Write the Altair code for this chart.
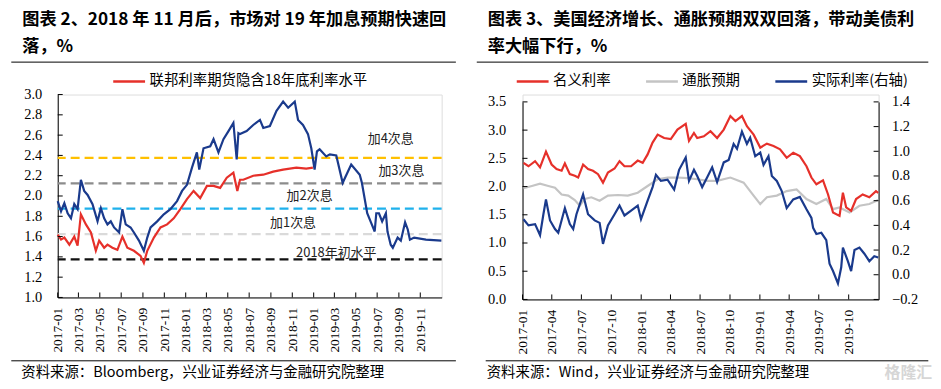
import pandas as pd
import altair as alt

# ---------------- text ----------------
L_TITLE = ["图表 2、2018 年 11 月后，市场对 19 年加息预期快速回", "落，%"]
R_TITLE = ["图表 3、美国经济增长、通胀预期双双回落，带动美债利", "率大幅下行，%"]
L_SOURCE = "资料来源：Bloomberg，兴业证券经济与金融研究院整理"
R_SOURCE = "资料来源：Wind，兴业证券经济与金融研究院整理"
WATERMARK = "格隆汇"
L_LEGEND = ["联邦利率期货隐含18年底利率水平"]
R_LEGEND = ["名义利率", "通胀预期", "实际利率(右轴)"]

# ---------------- left panel values (months since 2017-01-01) ----------------
LB_M = [0, 0.31, 0.62, 0.93, 1.24, 1.55, 1.86, 2.17, 2.48, 2.80, 3.26, 3.73, 4.04, 4.35, 4.66, 4.97,
        5.28, 5.75, 6.06, 6.37, 6.83, 7.14, 7.61, 8.07, 8.39, 8.70, 9.32, 9.94, 10.56, 11.18, 11.65,
        12.11, 12.58, 13.04, 13.26, 13.66, 14.29, 14.60, 15.06, 15.53, 16.00, 16.46, 16.77, 16.93,
        17.08, 17.70, 18.32, 18.95, 19.26, 19.88, 20.50, 21.12, 21.59, 22.21, 22.52, 22.98, 23.45,
        23.76, 24.07, 24.29, 24.54, 25.16, 25.50, 26.10, 26.70, 27.50, 28.30, 28.50, 29.00, 29.35,
        29.70, 29.85, 30.10, 30.40, 30.75, 30.90, 31.20, 31.40, 31.85, 32.15, 32.55, 32.80, 33.00,
        33.40, 34.50, 35.95]
LB_V = [1.95, 1.85, 1.93, 1.83, 1.78, 1.92, 1.87, 2.16, 2.05, 2.01, 1.92, 1.75, 1.88, 1.78, 1.72, 1.75,
        1.69, 1.64, 1.87, 1.72, 1.69, 1.64, 1.56, 1.46, 1.59, 1.69, 1.75, 1.82, 1.87, 1.95, 2.05,
        2.11, 2.28, 2.43, 2.26, 2.47, 2.49, 2.56, 2.43, 2.56, 2.64, 2.72, 2.36, 2.62,
        2.61, 2.64, 2.70, 2.75, 2.67, 2.69, 2.84, 2.93, 2.87, 2.93, 2.75, 2.70, 2.61,
        2.47, 2.26, 2.44, 2.46, 2.39, 2.41, 2.40, 2.13, 2.31, 2.21, 2.13, 1.83, 1.74,
        1.65, 1.83, 1.83, 1.75, 1.83, 1.65, 1.52, 1.49, 1.59, 1.56, 1.74, 1.67, 1.57,
        1.59, 1.57, 1.56]
LR_M = [0, 0.31, 0.62, 1.09, 1.55, 1.86, 2.17, 2.64, 3.11, 3.57, 3.88, 4.35, 4.66, 5.12, 5.59, 6.06,
        6.52, 7.14, 7.76, 8.07, 8.39, 9.01, 9.63, 10.25, 10.87, 11.49, 12.11, 12.73, 13.35, 13.98,
        14.60, 15.22, 15.84, 16.46, 16.83, 17.08, 17.39, 18.32, 19.26, 20.19, 21.12, 22.36, 23.29, 23.91]
LR_V = [1.62, 1.57, 1.59, 1.52, 1.60, 1.51, 1.82, 1.72, 1.64, 1.46, 1.56, 1.49, 1.52, 1.49, 1.47, 1.60,
        1.49, 1.46, 1.41, 1.34, 1.46, 1.59, 1.69, 1.72, 1.78, 1.87, 1.97, 2.05, 1.98, 2.10,
        2.10, 2.08, 2.18, 2.23, 2.05, 2.16, 2.16, 2.20, 2.21, 2.24, 2.26, 2.28, 2.27, 2.28]
LEVEL_V = [1.375, 1.625, 1.875, 2.125, 2.375]
LEVEL_C = ["#111111", "#DADADA", "#1FB1EC", "#8C8C8C", "#FFC000"]
ANN_T = ["2018年初水平", "加1次息", "加2次息", "加3次息", "加4次息"]
ANN_M = [26.1, 22.05, 23.6, 32.2, 31.2]
ANN_V = [1.44, 1.735, 2.0, 2.244, 2.557]
L_XTICKS = [(2017, 1), (2017, 3), (2017, 5), (2017, 7), (2017, 9), (2017, 11),
            (2018, 1), (2018, 3), (2018, 5), (2018, 7), (2018, 9), (2018, 11),
            (2019, 1), (2019, 3), (2019, 5), (2019, 7), (2019, 9), (2019, 11)]
L_YTICKS = [1.0, 1.2, 1.4, 1.6, 1.8, 2.0, 2.2, 2.4, 2.6, 2.8, 3.0]

# ---------------- right panel values ----------------
RN_M = [0.10, 0.60, 1.27, 1.77, 2.37, 2.94, 3.44, 3.95, 4.28, 4.78, 5.28, 5.62, 6.12, 6.62, 7.12, 7.63,
        8.13, 8.63, 9.30, 9.80, 10.30, 10.97, 11.64, 12.14, 12.64, 13.14, 13.65, 14.31, 14.98, 15.65,
        16.49, 16.82, 17.32, 17.65, 18.32, 18.99, 19.66, 20.33, 21.00, 21.51, 22.17, 22.67, 23.35,
        24.02, 24.69, 25.36, 26.02, 26.69, 27.35, 28.02, 28.69, 29.19, 29.69, 30.36, 30.87, 31.37,
        32.03, 32.37, 32.70, 33.20, 33.70, 34.37, 35.04, 35.71, 35.94]
RN_V = [2.42, 2.36, 2.45, 2.34, 2.62, 2.39, 2.31, 2.28, 2.41, 2.22, 2.19, 2.16, 2.39, 2.31, 2.28, 2.22,
        2.07, 2.25, 2.32, 2.45, 2.36, 2.36, 2.46, 2.42, 2.57, 2.78, 2.92, 2.86, 2.84, 3.01,
        3.11, 2.81, 2.95, 2.86, 2.89, 2.98, 2.86, 3.01, 3.25, 3.16, 3.25, 3.07, 2.92,
        2.69, 2.76, 2.72, 2.66, 2.51, 2.60, 2.54, 2.36, 2.16, 2.04, 2.11, 1.86, 1.54,
        1.48, 1.89, 1.63, 1.57, 1.78, 1.86, 1.81, 1.92, 1.89]
RI_M = [0.10, 0.94, 1.77, 2.61, 3.28, 3.95, 4.62, 5.28, 5.79, 6.29, 6.96, 7.79, 8.63, 9.63, 10.64,
        11.64, 12.64, 13.65, 14.65, 15.65, 16.66, 17.65, 18.66, 19.66, 21.00, 22.34, 23.35, 24.02,
        24.69, 25.69, 26.69, 27.69, 28.69, 29.69, 30.69, 31.37, 32.03, 33.04, 34.04, 35.04, 35.94]
RI_V = [1.97, 2.01, 2.05, 2.01, 1.98, 1.86, 1.84, 1.76, 1.66, 1.78, 1.81, 1.75, 1.84, 1.85, 1.84,
        1.89, 2.01, 2.13, 2.16, 2.16, 2.15, 2.13, 2.10, 2.10, 2.16, 2.07, 1.84, 1.69,
        1.81, 1.84, 1.92, 1.95, 1.78, 1.69, 1.78, 1.60, 1.63, 1.54, 1.66, 1.69, 1.76]
RR_M = [0.10, 0.60, 1.27, 1.77, 2.11, 2.37, 2.78, 3.28, 3.61, 4.28, 4.78, 5.12, 5.45, 6.12, 6.62,
        7.29, 7.79, 8.13, 8.63, 9.30, 9.80, 10.30, 10.97, 11.64, 11.97, 12.64, 13.14, 13.48, 13.98,
        14.65, 15.32, 15.82, 16.49, 16.82, 17.32, 17.65, 18.15, 18.66, 19.16, 19.66, 20.33, 20.83,
        21.33, 21.67, 22.17, 22.67, 23.00, 23.51, 24.02, 24.35, 24.85, 25.19, 25.69, 26.18, 26.69,
        27.35, 28.02, 28.69, 29.19, 29.36, 29.69, 30.19, 30.69, 31.02, 31.37, 31.87, 32.20, 32.37,
        32.87, 33.20, 33.54, 34.04, 34.54, 35.04, 35.54, 35.94]
RR_V = [0.45, 0.40, 0.41, 0.32, 0.49, 0.61, 0.44, 0.37, 0.34, 0.54, 0.41, 0.37, 0.49, 0.65, 0.49,
        0.44, 0.42, 0.25, 0.40, 0.49, 0.56, 0.48, 0.52, 0.56, 0.45, 0.60, 0.71, 0.81, 0.76,
        0.77, 0.69, 0.85, 0.95, 0.76, 0.85, 0.80, 0.71, 0.79, 0.87, 0.75, 0.91, 0.93,
        1.06, 1.02, 1.16, 1.06, 1.11, 0.96, 0.99, 0.89, 0.96, 0.80, 0.76, 0.68, 0.54,
        0.61, 0.63, 0.53, 0.46, 0.38, 0.33, 0.34, 0.28, 0.09, 0.03, -0.07, 0.06, 0.22,
        0.11, 0.03, 0.20, 0.22, 0.17, 0.11, 0.15, 0.14]
R_XTICKS = [(2017, 1), (2017, 4), (2017, 7), (2017, 10), (2018, 1), (2018, 4), (2018, 7), (2018, 10),
            (2019, 1), (2019, 4), (2019, 7), (2019, 10)]
R_YL = [0.0, 0.5, 1.0, 1.5, 2.0, 2.5, 3.0, 3.5]
R_YR = [-0.2, 0.0, 0.2, 0.4, 0.6, 0.8, 1.0, 1.2, 1.4]

# ---------------- styling ----------------
CJK = "Noto Sans CJK SC"
SERIF = "Liberation Serif"
RED = "#E6302A"
BLUE = "#1A3A8C"
GRAY = "#C4C4C4"
LW, LH = 386, 204
RW, RH = 358, 206
R_TOP = 7.4
TITLE_Y1, TITLE_Y2 = -70.3, -42.3

BASE = pd.Timestamp("2017-01-01")


def to_dates(months):
    return [BASE + pd.Timedelta(days=float(m) * 30.4375) for m in months]


def tick_dates(pairs):
    return [pd.Timestamp(year=y, month=m, day=1) for y, m in pairs]


def x_scale():
    return alt.Scale(domain=[alt.DateTime(year=2017, month=1, date=1),
                             alt.DateTime(year=2020, month=1, date=1)], nice=False)


def x_axis(pairs):
    return alt.Axis(values=[alt.DateTime(year=y, month=m, date=1) for y, m in pairs],
                    format="%Y-%m", labelAngle=270, labelPadding=10, ticks=False, tickSize=0,
                    grid=False, domainColor="black", domainWidth=1, labelFont=SERIF,
                    labelFontSize=13.5, labelColor="black", labelOverlap=False, labelFlush=False)


def y_axis(vals, orient, pad):
    return alt.Axis(values=vals, format=".1f", orient=orient, labelPadding=pad, ticks=False,
                    tickSize=0, grid=False, domainColor="black", domainWidth=1, labelFont=SERIF,
                    labelFontSize=14.5, labelColor="black", labelOverlap=False, labelFlush=False)


def text_layer(txt, x, y, size, weight="normal", color="black", baseline="middle", align="left"):
    return alt.Chart(pd.DataFrame({"t": [txt]})).mark_text(
        align=align, baseline=baseline, font=CJK, fontSize=size, fontWeight=weight, color=color
    ).encode(x=alt.value(x), y=alt.value(y), text="t:N")


def hrule(x1, x2, y, opacity=1.0):
    return alt.Chart(pd.DataFrame({"a": [0]})).mark_rule(
        color="black", strokeWidth=1, strokeOpacity=opacity
    ).encode(x=alt.value(x1), x2=alt.value(x2), y=alt.value(y))


def legend(x, y):
    return alt.Legend(orient="none", legendX=x, legendY=y, direction="horizontal", title=None,
                      symbolType="stroke", symbolSize=1024, symbolStrokeWidth=2.5,
                      labelFont=CJK, labelFontSize=14.5, labelColor="black", labelOffset=3,
                      columnPadding=30, padding=0, labelLimit=400)


# ---------------- left panel ----------------
LX = alt.X("d:T", scale=x_scale(), axis=x_axis(L_XTICKS), title=None)
LY = alt.Y("v:Q", scale=alt.Scale(domain=[1.0, 3.0], nice=False, zero=False),
           axis=y_axis(L_YTICKS, "left", 16), title=None)

l_levels = alt.Chart(pd.DataFrame({"v": LEVEL_V, "c": LEVEL_C})).mark_rule(
    strokeDash=[9, 5], strokeWidth=2.2).encode(y=LY, stroke=alt.Stroke("c:N", scale=None))
l_blue = alt.Chart(pd.DataFrame({"d": to_dates(LB_M), "v": LB_V})).mark_line(
    color=BLUE, strokeWidth=2.2).encode(x=LX, y=LY)
l_red = alt.Chart(pd.DataFrame({"d": to_dates(LR_M), "v": LR_V, "s": L_LEGEND * len(LR_M)})).mark_line(
    strokeWidth=2.2).encode(x=LX, y=LY, color=alt.Color(
        "s:N", scale=alt.Scale(domain=L_LEGEND, range=[RED]), legend=legend(54.3, -30.6)))
l_ann = alt.Chart(pd.DataFrame({"d": to_dates(ANN_M), "v": ANN_V, "t": ANN_T})).mark_text(
    font=CJK, fontSize=13, color="#222222").encode(x=LX, y=LY, text="t:N")
l_xt = alt.Chart(pd.DataFrame({"d": tick_dates(L_XTICKS)})).mark_rule(color="black").encode(
    x=LX, y=alt.value(LH - 5), y2=alt.value(LH))
l_yt = alt.Chart(pd.DataFrame({"v": L_YTICKS})).mark_rule(color="black").encode(
    y=LY, x=alt.value(0), x2=alt.value(5))

left = alt.layer(
    hrule(-48.7, -47.7, -85.3, opacity=0.0),
    l_levels, l_blue, l_red, l_ann, l_xt, l_yt,
    text_layer(L_TITLE[0], -35.7, TITLE_Y1, 17.3, "bold", baseline="alphabetic"),
    text_layer(L_TITLE[1], -35.7, TITLE_Y2, 17.3, "bold", baseline="alphabetic"),
    hrule(-46.7, 400.3, -32.6),
    hrule(-46.7, 400.3, 267.7),
    text_layer(L_SOURCE, -36.7, 279.6, 14.5),
).properties(width=LW, height=LH)

# ---------------- right panel ----------------
RX = alt.X("d:T", scale=x_scale(), axis=x_axis(R_XTICKS), title=None)
RYL = alt.Y("v:Q", scale=alt.Scale(domain=[0.0, 3.5], range=[RH, R_TOP], nice=False, zero=False),
            axis=y_axis(R_YL, "left", 17), title=None)
RYR = alt.Y("v:Q", scale=alt.Scale(domain=[-0.2, 1.4], range=[RH, R_TOP], nice=False, zero=False),
            axis=y_axis(R_YR, "right", 13), title=None)
R_COLOR = alt.Color("s:N", scale=alt.Scale(domain=R_LEGEND, range=[RED, GRAY, BLUE]),
                    legend=legend(-7.3, -30.6))

r_left_df = pd.concat([
    pd.DataFrame({"d": to_dates(RI_M), "v": RI_V, "s": R_LEGEND[1]}),
    pd.DataFrame({"d": to_dates(RN_M), "v": RN_V, "s": R_LEGEND[0]}),
], ignore_index=True)
r_right_df = pd.DataFrame({"d": to_dates(RR_M), "v": RR_V, "s": R_LEGEND[2]})

r_left = alt.layer(
    alt.Chart(r_left_df).mark_line(strokeWidth=2.2).encode(x=RX, y=RYL, color=R_COLOR),
    alt.Chart(pd.DataFrame({"v": R_YL})).mark_rule(color="black").encode(
        y=RYL, x=alt.value(0), x2=alt.value(5)),
)
r_right = alt.layer(
    alt.Chart(r_right_df).mark_line(strokeWidth=2.2).encode(x=RX, y=RYR, color=R_COLOR),
    alt.Chart(pd.DataFrame({"v": R_YR})).mark_rule(color="black").encode(
        y=RYR, x=alt.value(RW - 5), x2=alt.value(RW)),
)
r_xt = alt.Chart(pd.DataFrame({"d": tick_dates(R_XTICKS)})).mark_rule(color="black").encode(
    x=RX, y=alt.value(RH - 5), y2=alt.value(RH))

right = alt.layer(
    r_left, r_right, r_xt,
    text_layer(R_TITLE[0], -35, TITLE_Y1, 17.3, "bold", baseline="alphabetic"),
    text_layer(R_TITLE[1], -35, TITLE_Y2, 17.3, "bold", baseline="alphabetic"),
    hrule(-46, 408, -32.6),
    hrule(-37, 408, 267.7),
    text_layer(R_SOURCE, -36, 279.6, 14.5),
    text_layer(WATERMARK, 364, 279.6, 16, "bold", color="#D6D6D6"),
).resolve_scale(y="independent").properties(width=RW, height=RH)

chart = alt.hconcat(left, right, spacing=81.3, bounds="flush").resolve_scale(
    color="independent").resolve_legend(color="independent").properties(
    padding={"left": 0, "top": 0, "right": 0, "bottom": 0}
).configure_view(stroke=None).configure(background="white")

chart.save("out.html", embed_options={"renderer": "svg", "actions": False})
